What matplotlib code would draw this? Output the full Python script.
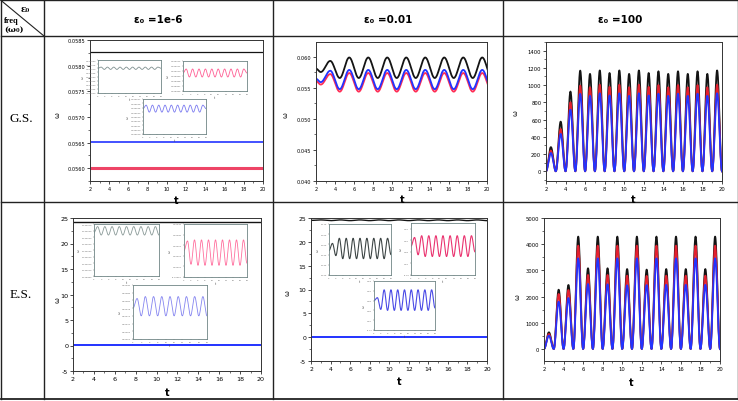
import numpy as np
import matplotlib
matplotlib.use("Agg")
import matplotlib.pyplot as plt
from matplotlib.lines import Line2D
from matplotlib.ticker import AutoMinorLocator, FormatStrFormatter

W, H = 738, 402

# ---------------- data ----------------
col_titles = ["ε₀ =1e-6", "ε₀ =0.01", "ε₀ =100"]
row_titles = ["G.S.", "E.S."]

# G.S., eps0 = 1e-6 : flat lines
gs1_t = [2, 20]
gs1_black = [0.05826, 0.05826]
gs1_blue = [0.05652, 0.05652]
gs1_red = [0.05600, 0.05600]

# G.S., eps0 = 0.01 : extrema of the oscillations
gs2_t = [2.0, 2.5, 3.5, 4.5, 5.5, 6.5, 7.5, 8.5, 9.5, 10.5, 11.5, 12.5, 13.5,
         14.5, 15.5, 16.5, 17.5, 18.5, 19.5, 20.5]
gs2_black = [0.0581, 0.05756, 0.05935, 0.0566, 0.0599, 0.0566, 0.0599, 0.0566,
             0.0599, 0.0566, 0.0599, 0.0566, 0.0599, 0.0566, 0.0599, 0.0566,
             0.0599, 0.0566, 0.0599, 0.0566]
gs2_blue = [0.05647, 0.05593, 0.05777, 0.0548, 0.0579, 0.0548, 0.0579, 0.0548,
            0.0579, 0.0548, 0.0579, 0.0548, 0.0579, 0.0548, 0.0579, 0.0548,
            0.0579, 0.0548, 0.0579, 0.0548]
gs2_red = [0.0561, 0.05554, 0.05723, 0.0544, 0.0574, 0.0544, 0.0574, 0.0544,
           0.0574, 0.0544, 0.0574, 0.0544, 0.0574, 0.0544, 0.0574, 0.0544,
           0.0574, 0.0544, 0.0574, 0.0544]

# eps0 = 100 : peaks at half-integer t, zeros at integer t
peak_t = [2.5, 3.5, 4.5, 5.5, 6.5, 7.5, 8.5, 9.5, 10.5, 11.5, 12.5, 13.5,
          14.5, 15.5, 16.5, 17.5, 18.5, 19.5]
gs3_black = [280, 576, 925, 1168, 1130, 1170, 1140, 1170, 1130, 1170, 1140,
             1160, 1130, 1160, 1130, 1160, 1130, 1170]
gs3_red = [240, 491, 801, 994, 975, 1005, 980, 1005, 975, 1005, 980, 1000,
           975, 1000, 975, 1000, 975, 1005]
gs3_blue = [212, 433, 715, 898, 875, 905, 880, 905, 875, 905, 880, 900, 875,
            900, 875, 900, 875, 905]
es3_black = [636, 2263, 2443, 4290, 3080, 4290, 3080, 4290, 3050, 4290, 3030,
             4290, 3050, 4290, 3050, 4290, 3050, 4290]
es3_red = [570, 2100, 2250, 3945, 2824, 3945, 2824, 3945, 2800, 3945, 2790,
           3945, 2800, 3945, 2800, 3945, 2800, 3945]
es3_blue = [508, 1805, 1946, 3460, 2480, 3460, 2470, 3460, 2430, 3460, 2440,
            3460, 2450, 3460, 2450, 3460, 2450, 3460]

# E.S., eps0 = 1e-6 and 0.01 : near-flat lines
es1_t = [2, 20]
es1_black = [24.2, 24.2]
es1_blue = [0.1, 0.1]
es2_t = [2.0, 3.0, 4.0, 5.0, 6.0, 7.0, 8.0, 9.0, 10.0, 11.0, 12.0, 13.0, 14.0,
         15.0, 16.0, 17.0, 18.0, 19.0, 20.0]
es2_black = [24.5, 24.6, 24.45, 24.6, 24.45, 24.6, 24.45, 24.6, 24.45, 24.6,
             24.45, 24.6, 24.45, 24.6, 24.45, 24.6, 24.45, 24.6, 24.45]
es2_blue = [0.05] * 19

# insets: extrema of the zoomed curves
ins_t1 = [2.0, 2.9, 3.8, 4.7, 5.6, 6.5, 7.4, 8.3, 9.2, 10.1, 11.0, 11.9, 12.8,
          13.7, 14.6, 15.5, 16.4, 17.3, 18.2, 19.1, 20.0]
ins1_gray = [0.058270, 0.0582714, 0.0582686, 0.0582714, 0.0582686, 0.0582714,
             0.0582686, 0.0582714, 0.0582686, 0.0582714, 0.0582686, 0.0582714,
             0.0582686, 0.0582714, 0.0582686, 0.0582714, 0.0582686, 0.0582714,
             0.0582686, 0.0582714, 0.0582700]
ins1_pink = [0.0559996, 0.0560004, 0.0559988, 0.0560004, 0.0559988, 0.0560004,
             0.0559988, 0.0560004, 0.0559988, 0.0560004, 0.0559988, 0.0560004,
             0.0559988, 0.0560004, 0.0559988, 0.0560004, 0.0559988, 0.0560004,
             0.0559988, 0.0560004, 0.0559996]
ins1_blue = [0.0565248, 0.0565256, 0.056524, 0.0565256, 0.056524, 0.0565256,
             0.056524, 0.0565256, 0.056524, 0.0565256, 0.056524, 0.0565256,
             0.056524, 0.0565256, 0.056524, 0.0565256, 0.056524, 0.0565256,
             0.056524, 0.0565256, 0.0565248]

ins_t2 = [2.0, 3.0, 4.0, 5.0, 6.0, 7.0, 8.0, 9.0, 10.0, 11.0, 12.0, 13.0, 14.0,
          15.0, 16.0, 17.0, 18.0, 19.0, 20.0]
ins4_gray = [24.30057, 24.30066, 24.30053, 24.30066, 24.30053, 24.30066,
             24.30053, 24.30066, 24.30053, 24.30066, 24.30053, 24.30066,
             24.30053, 24.30066, 24.30053, 24.30066, 24.30053, 24.30066, 24.30053]
ins4_pink = [0.00015, 0.00024, 0.00002, 0.00025, 0.00001, 0.00025, 0.00001,
             0.00025, 0.00001, 0.00025, 0.00001, 0.00025, 0.00001, 0.00025,
             0.00001, 0.00025, 0.00001, 0.00025, 0.00003]
ins4_blue = [0.10278, 0.10283, 0.10274, 0.10284, 0.10274, 0.10284, 0.10274,
             0.10284, 0.10274, 0.10284, 0.10274, 0.10284, 0.10274, 0.10284,
             0.10274, 0.10284, 0.10274, 0.10284, 0.10274]
ins5_gray = [24.44, 24.51, 24.39, 24.56, 24.36, 24.56, 24.36, 24.56, 24.36,
             24.56, 24.36, 24.56, 24.36, 24.56, 24.36, 24.56, 24.36, 24.56, 24.40]
ins5_pink = [0.04, 0.055, 0.025, 0.058, 0.022, 0.058, 0.022, 0.058, 0.022,
             0.058, 0.022, 0.058, 0.022, 0.058, 0.022, 0.058, 0.022, 0.058, 0.03]
ins5_blue = [0.04, 0.046, 0.022, 0.062, 0.02, 0.062, 0.02, 0.062, 0.02, 0.062,
             0.02, 0.062, 0.02, 0.062, 0.02, 0.062, 0.02, 0.062, 0.025]


def smooth(ts, vs, n=24):
    # cosine-shaped segments between successive extrema
    tt, vv = [], []
    for i in range(len(ts) - 1):
        s = np.linspace(0, 1, n, endpoint=False)
        tt.append(ts[i] + (ts[i + 1] - ts[i]) * s)
        vv.append(vs[i] + (vs[i + 1] - vs[i]) * (1 - np.cos(np.pi * s)) / 2)
    tt.append([ts[-1]])
    vv.append([vs[-1]])
    return np.concatenate(tt), np.concatenate(vv)


def peaks_to_extrema(pt, pv):
    ts, vs = [2.0], [0.0]
    for t, v in zip(pt, pv):
        ts += [t, t + 0.5]
        vs += [v, 0.0]
    return ts, vs


def px_axes(x0, y0, x1, y1):
    return fig.add_axes([x0 / W, 1 - y1 / H, (x1 - x0) / W, (y1 - y0) / H])


def style_main(ax, ylim, yticks, fmt, fs):
    ax.set_xlim(2, 20)
    ax.set_ylim(*ylim)
    ax.set_xticks(range(2, 21, 2))
    ax.set_yticks(yticks)
    ax.yaxis.set_major_formatter(FormatStrFormatter(fmt))
    ax.xaxis.set_minor_locator(AutoMinorLocator(2))
    ax.yaxis.set_minor_locator(AutoMinorLocator(2))
    ax.tick_params(which="major", direction="out", length=2.2, width=0.5,
                   labelsize=fs, pad=1.2, top=False, right=False)
    ax.tick_params(which="minor", direction="out", length=1.2, width=0.4,
                   top=False, right=False)
    for sp in ax.spines.values():
        sp.set_linewidth(0.7)
        sp.set_color("#333333")


def make_inset(rect, t, v, color, ylim, yticks, fmt, lw=0.6):
    ax = px_axes(*rect)
    tt, vv = smooth(t, v)
    ax.plot(tt, vv, color=color, lw=lw)
    ax.set_xlim(2, 20)
    ax.set_ylim(*ylim)
    ax.set_xticks(range(2, 21, 2))
    ax.set_yticks(yticks)
    ax.yaxis.set_major_formatter(FormatStrFormatter(fmt))
    ax.tick_params(direction="out", length=0.8, width=0.3, labelsize=1.6,
                   pad=0.5, labelcolor="#666666", color="#666666")
    for sp in ax.spines.values():
        sp.set_linewidth(0.6)
        sp.set_color("#6f8585")
    ax.set_xlabel("t", fontsize=2.2, labelpad=0.6, color="#444444")
    ax.set_ylabel("ω", fontsize=2.2, labelpad=0.6, color="#444444")
    return ax


fig = plt.figure(figsize=(W / 100, H / 100), dpi=100)
fig.patch.set_facecolor("white")

BLACK, RED, BLUE = "#141414", "#e3202e", "#2233ff"

# ---------------- G.S. row ----------------
ax1 = px_axes(90, 41, 263, 182)
ax1.plot(gs1_t, gs1_black, color=BLACK, lw=0.9)
ax1.plot(gs1_t, gs1_red, color="#ee4466", lw=2.2)
ax1.plot(gs1_t, gs1_blue, color=BLUE, lw=1.2)
style_main(ax1, (0.05575, 0.0585), np.arange(0.0560, 0.05851, 0.0005), "%.4f", 3.6)

ax2 = px_axes(316, 43, 487, 182)
for vals, c in [(gs2_black, BLACK), (gs2_red, "#ff2d55"), (gs2_blue, BLUE)]:
    tt, vv = smooth(gs2_t, vals)
    ax2.plot(tt, vv, color=c, lw=1.3)
style_main(ax2, (0.040, 0.0624), np.arange(0.040, 0.0601, 0.005), "%.3f", 3.6)

ax3 = px_axes(546, 43, 722, 182)
for vals, c in [(gs3_black, BLACK), (gs3_red, RED), (gs3_blue, BLUE)]:
    tt, vv = smooth(*peaks_to_extrema(peak_t, vals))
    ax3.plot(tt, vv, color=c, lw=1.3)
style_main(ax3, (-113, 1500), range(0, 1401, 200), "%d", 3.8)

# ---------------- E.S. row ----------------
ax4 = px_axes(73, 219, 261, 372)
ax4.plot(es1_t, es1_black, color=BLACK, lw=1.0)
ax4.plot(es1_t, es1_blue, color=BLUE, lw=1.4)
style_main(ax4, (-5, 25), range(-5, 26, 5), "%d", 4.6)

ax5 = px_axes(311, 219, 487, 362)
tt, vv = smooth(es2_t, es2_black)
ax5.plot(tt, vv, color=BLACK, lw=1.0)
ax5.plot(es2_t, es2_blue, color=BLUE, lw=1.4)
style_main(ax5, (-5, 25), range(-5, 26, 5), "%d", 4.4)

ax6 = px_axes(544, 219, 720, 362)
for vals, c in [(es3_black, BLACK), (es3_red, RED), (es3_blue, BLUE)]:
    tt, vv = smooth(*peaks_to_extrema(peak_t, vals))
    ax6.plot(tt, vv, color=c, lw=1.3)
style_main(ax6, (-460, 5000), range(0, 5001, 1000), "%d", 3.8)

# axis labels placed at measured pixel spots
for x, y in [(176, 201), (402, 200), (633, 200), (167, 393), (399, 382), (631, 383)]:
    fig.text(x / W, 1 - y / H, "t", ha="center", va="center", fontsize=7,
             fontweight="bold")
for x, y in [(57, 115), (285, 115), (515, 113), (57, 300), (287, 293), (518, 297)]:
    fig.text(x / W, 1 - y / H, "ω", ha="center", va="center", fontsize=5,
             rotation=90)

# ---------------- insets ----------------
make_inset((98, 61, 161, 94), ins_t1, ins1_gray, "#7f9090",
           (0.058240, 0.058280), np.arange(0.058240, 0.0582801, 0.000005), "%.6f")
make_inset((183, 62, 247, 92), ins_t1, ins1_pink, "#ff5f95",
           (0.055996, 0.056002), np.arange(0.055996, 0.0560021, 0.000001), "%.6f")
make_inset((143, 100, 206, 135), ins_t1, ins1_blue, "#7b7bf0",
           (0.056519, 0.056527), np.arange(0.056519, 0.0565271, 0.000001), "%.6f")

make_inset((94, 225, 159, 277), ins_t2, ins4_gray, "#8a9a98",
           (24.2999, 24.3007), np.arange(24.2999, 24.30071, 0.0001), "%.5f")
make_inset((184, 225, 247, 278), ins_t2, ins4_pink, "#ff6f9e",
           (-0.0001, 0.0004), np.arange(-0.0001, 0.00041, 0.0001), "%.5f")
make_inset((133, 286, 207, 340), ins_t2, ins4_blue, "#8585f0",
           (0.10262, 0.10290), np.arange(0.10262, 0.102901, 0.00004), "%.5f")

make_inset((329, 225, 391, 276), ins_t2, ins5_gray, "#3e4646",
           (24.20, 24.70), np.arange(24.20, 24.701, 0.1), "%.2f", lw=0.8)
make_inset((411, 224, 475, 276), ins_t2, ins5_pink, "#ea3470",
           (-0.01, 0.08), np.arange(-0.01, 0.0801, 0.02), "%.2f", lw=0.8)
make_inset((374, 282, 435, 331), ins_t2, ins5_blue, "#4a4ae6",
           (-0.02, 0.08), np.arange(-0.02, 0.0801, 0.02), "%.2f", lw=0.8)

# ---------------- table grid ----------------
def hline(y, x0=0.5, x1=737.5, lw=1.0):
    fig.add_artist(Line2D([x0 / W, x1 / W], [1 - y / H, 1 - y / H],
                          color="#222222", lw=lw))


def vline(x, y0=1, y1=399.5, lw=1.0):
    fig.add_artist(Line2D([x / W, x / W], [1 - y0 / H, 1 - y1 / H],
                          color="#222222", lw=lw))


hline(1)
hline(37)
hline(203)
hline(399.5, lw=1.3)
for x in [0.5, 44, 273, 503, 737.5]:
    vline(x)
fig.add_artist(Line2D([0.5 / W, 44 / W], [1 - 1 / H, 1 - 37 / H],
                      color="#222222", lw=0.8))

# header cells
for x, s in zip([158, 388, 620], col_titles):
    fig.text(x / W, 1 - 20 / H, s, ha="center", va="center", fontsize=7.5,
             fontweight="bold")
fig.text(25 / W, 1 - 9 / H, "ε₀", ha="center", va="center", fontsize=6.5,
         fontweight="bold", family="DejaVu Serif")
fig.text(4 / W, 1 - 21 / H, "freq", ha="left", va="center", fontsize=6,
         fontweight="bold", family="Liberation Serif")
fig.text(4 / W, 1 - 30 / H, "(ω₀)", ha="left", va="center", fontsize=6,
         fontweight="bold", family="DejaVu Serif")

for y, s in zip([119, 295], row_titles):
    fig.text(21 / W, 1 - y / H, s, ha="center", va="center", fontsize=9.5,
             family="Liberation Serif")

fig.savefig("out.png", dpi=100)
